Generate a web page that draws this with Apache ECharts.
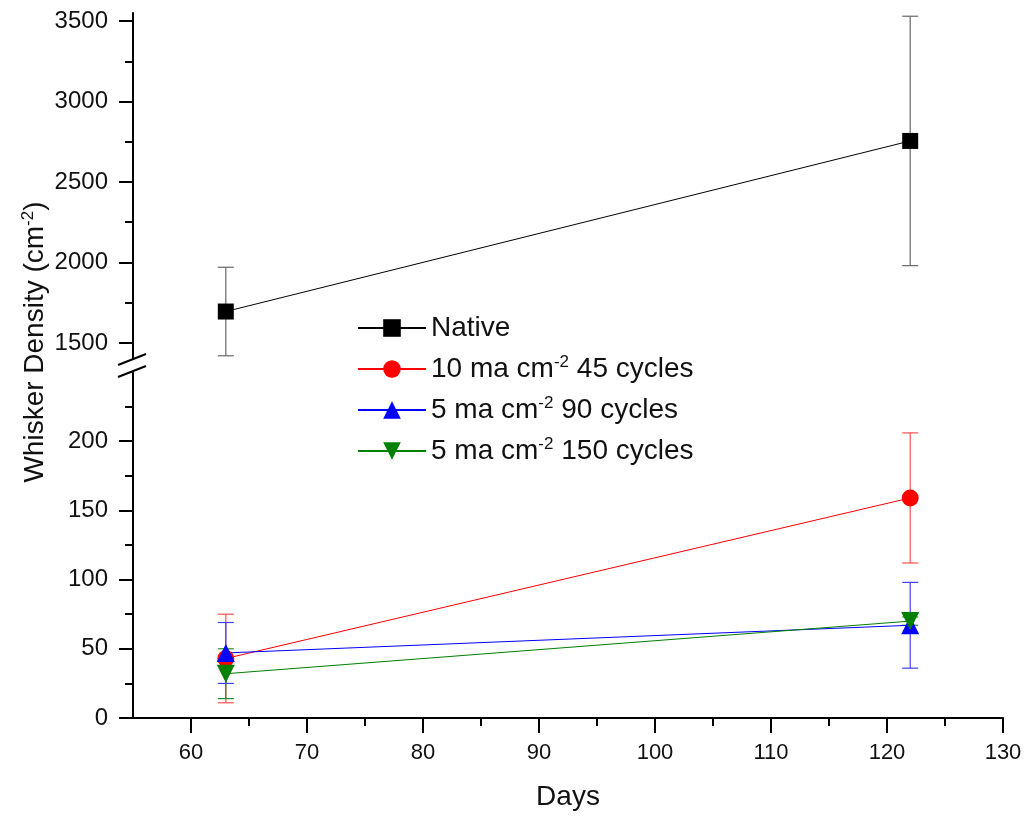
<!DOCTYPE html>
<html>
<head>
<meta charset="utf-8">
<script src="https://cdn.jsdelivr.net/npm/echarts@6/dist/echarts.min.js"></script>
<style>
  html, body { margin: 0; padding: 0; background: #fff; }
  #chart { width: 1030px; height: 821px; }
</style>
</head>
<body>
<div id="chart"></div>
<script>
// values
const days = [63, 122];
const nativeVals = [1695, 2755];
const nativeErr = [275, 775];
const red45 = [43, 159];
const red45Err = [32, 47];
const blue90 = [47, 67];
const blue90Err = [22, 31];
const green150 = [32, 70];
const green150Err = [18, 3];

const xLabels = [60, 70, 80, 90, 100, 110, 120, 130];
const xMinor = [65, 75, 85, 95, 105, 115, 125];
const upLabels = [1500, 2000, 2500, 3000, 3500];
const upMinor = [1750, 2250, 2750, 3250];
const lowLabels = [0, 50, 100, 150, 200];
const lowMinor = [25, 75, 125, 175, 225];

const FONT = 'Liberation Sans, Arial, sans-serif';
const names = ['Native', '10 ma cm-2 45 cycles', '5 ma cm-2 90 cycles', '5 ma cm-2 150 cycles'];

const chart = echarts.init(document.getElementById('chart'));

function pts(vals) { return days.map((d, i) => [d, vals[i]]); }
function errPts(vals, err) { return days.map((d, i) => [d, vals[i] - err[i], vals[i] + err[i]]); }

function errSeries(vals, err, color, xi, yi) {
  return {
    type: 'custom',
    xAxisIndex: xi, yAxisIndex: yi,
    z: 1,
    silent: true,
    data: errPts(vals, err),
    encode: { x: 0, y: [1, 2] },
    renderItem: function (params, api) {
      const x = api.value(0);
      const top = api.coord([x, api.value(2)]);
      const bot = api.coord([x, api.value(1)]);
      const w = 8;
      const st = { stroke: color, lineWidth: 1.2 };
      return {
        type: 'group',
        children: [
          { type: 'line', shape: { x1: top[0], y1: top[1], x2: bot[0], y2: bot[1] }, style: st },
          { type: 'line', shape: { x1: top[0] - w, y1: top[1], x2: top[0] + w, y2: top[1] }, style: st },
          { type: 'line', shape: { x1: bot[0] - w, y1: bot[1], x2: bot[0] + w, y2: bot[1] }, style: st }
        ]
      };
    }
  };
}

function lineSeries(name, vals, color, symbol, size, rotate, xi, yi) {
  return {
    name: name,
    type: 'line',
    xAxisIndex: xi, yAxisIndex: yi,
    z: 3,
    data: pts(vals),
    symbol: symbol,
    symbolSize: size,
    symbolRotate: rotate,
    showAllSymbol: true,
    lineStyle: { color: color, width: 1 },
    itemStyle: { color: color },
    emphasis: { disabled: true }
  };
}

const axisLine = { show: true, onZero: false, lineStyle: { color: '#000', width: 2 } };
const tickStyle = { color: '#000', width: 2 };
const plain = v => String(v);
const yLabelStyle = { color: '#111', fontSize: 24, fontFamily: FONT, formatter: plain };
const xLabelStyle = { color: '#111', fontSize: 22, fontFamily: FONT, formatter: plain };

function minorY(grid, min, max, values) {
  return {
    type: 'value', gridIndex: grid, min: min, max: max, position: 'left', offset: 0,
    axisLine: { show: false },
    axisTick: { show: true, customValues: values, length: 8, lineStyle: tickStyle },
    axisLabel: { show: false },
    splitLine: { show: false }
  };
}

const option = {
  animation: false,
  backgroundColor: '#fff',
  grid: [
    { left: 133, right: 27, top: 13, height: 346 },
    { left: 133, right: 27, top: 372, height: 346 }
  ],
  xAxis: [
    { type: 'value', gridIndex: 0, min: 55, max: 130, show: false },
    {
      type: 'value', gridIndex: 1, min: 55, max: 130, position: 'bottom',
      axisLine: axisLine,
      axisTick: { show: true, customValues: xLabels, length: 15, lineStyle: tickStyle },
      axisLabel: Object.assign({ customValues: xLabels, margin: 24 }, xLabelStyle),
      splitLine: { show: false },
      name: 'Days', nameLocation: 'middle', nameGap: 65,
      nameTextStyle: { color: '#111', fontSize: 28, fontFamily: FONT }
    },
    {
      type: 'value', gridIndex: 1, min: 55, max: 130, position: 'bottom', offset: 0,
      axisLine: { show: false },
      axisTick: { show: true, customValues: xMinor, length: 8, lineStyle: tickStyle },
      axisLabel: { show: false },
      splitLine: { show: false }
    }
  ],
  yAxis: [
    {
      type: 'value', gridIndex: 0, min: 1400, max: 3550, position: 'left',
      axisLine: axisLine,
      axisTick: { show: true, customValues: upLabels, length: 14, lineStyle: tickStyle },
      axisLabel: Object.assign({ customValues: upLabels, margin: 25 }, yLabelStyle),
      splitLine: { show: false }
    },
    minorY(0, 1400, 3550, upMinor),
    {
      type: 'value', gridIndex: 1, min: 0, max: 250, position: 'left',
      axisLine: axisLine,
      axisTick: { show: true, customValues: lowLabels, length: 14, lineStyle: tickStyle },
      axisLabel: Object.assign({ customValues: lowLabels, margin: 25 }, yLabelStyle),
      splitLine: { show: false }
    },
    minorY(1, 0, 250, lowMinor)
  ],
  legend: {
    data: names,
    orient: 'vertical',
    left: 352, top: 308,
    itemWidth: 68, itemHeight: 22,
    itemGap: 11,
    selectedMode: false,
    textStyle: {
      color: '#111', fontSize: 28, fontFamily: FONT, lineHeight: 30,
      rich: {
        n: { fontSize: 28, fontFamily: FONT, color: '#111', lineHeight: 30, padding: [0, 0, 0, 0] },
        s: { fontSize: 17, fontFamily: FONT, color: '#111', verticalAlign: 'top', lineHeight: 14 }
      }
    },
    formatter: function (name) {
      if (name.indexOf('cm-2') < 0) return '{n|' + name + '}';
      const parts = name.split('cm-2');
      return '{n|' + parts[0] + 'cm}{s|-2}{n|' + parts[1] + '}';
    }
  },
  graphic: [
    {
      type: 'text', x: 35, y: 342, rotation: Math.PI / 2,
      style: {
        text: '{n|Whisker Density (cm}{s|-2}{n|)}',
        align: 'center', verticalAlign: 'middle',
        rich: {
          n: { fontSize: 28, fontFamily: FONT, fill: '#111', lineHeight: 30 },
          s: { fontSize: 17, fontFamily: FONT, fill: '#111', verticalAlign: 'top', lineHeight: 14 }
        }
      }
    },
    { type: 'line', shape: { x1: 118, y1: 365, x2: 146, y2: 354 }, style: { stroke: '#000', lineWidth: 2 } },
    { type: 'line', shape: { x1: 118, y1: 377, x2: 146, y2: 366 }, style: { stroke: '#000', lineWidth: 2 } }
  ],
  series: [
    errSeries(nativeVals, nativeErr, '#666', 0, 0),
    errSeries(red45, red45Err, '#ff5050', 1, 2),
    errSeries(blue90, blue90Err, '#4040ff', 1, 2),
    errSeries(green150, green150Err, '#2a8a2a', 1, 2),
    lineSeries(names[0], nativeVals, '#000', 'rect', 16, 0, 0, 0),
    lineSeries(names[1], red45, '#ff0000', 'circle', 17, 0, 1, 2),
    lineSeries(names[2], blue90, '#0000ff', 'triangle', 18, 0, 1, 2),
    lineSeries(names[3], green150, '#008000', 'triangle', 18, 180, 1, 2)
  ]
};

chart.setOption(option);
</script>
</body>
</html>
